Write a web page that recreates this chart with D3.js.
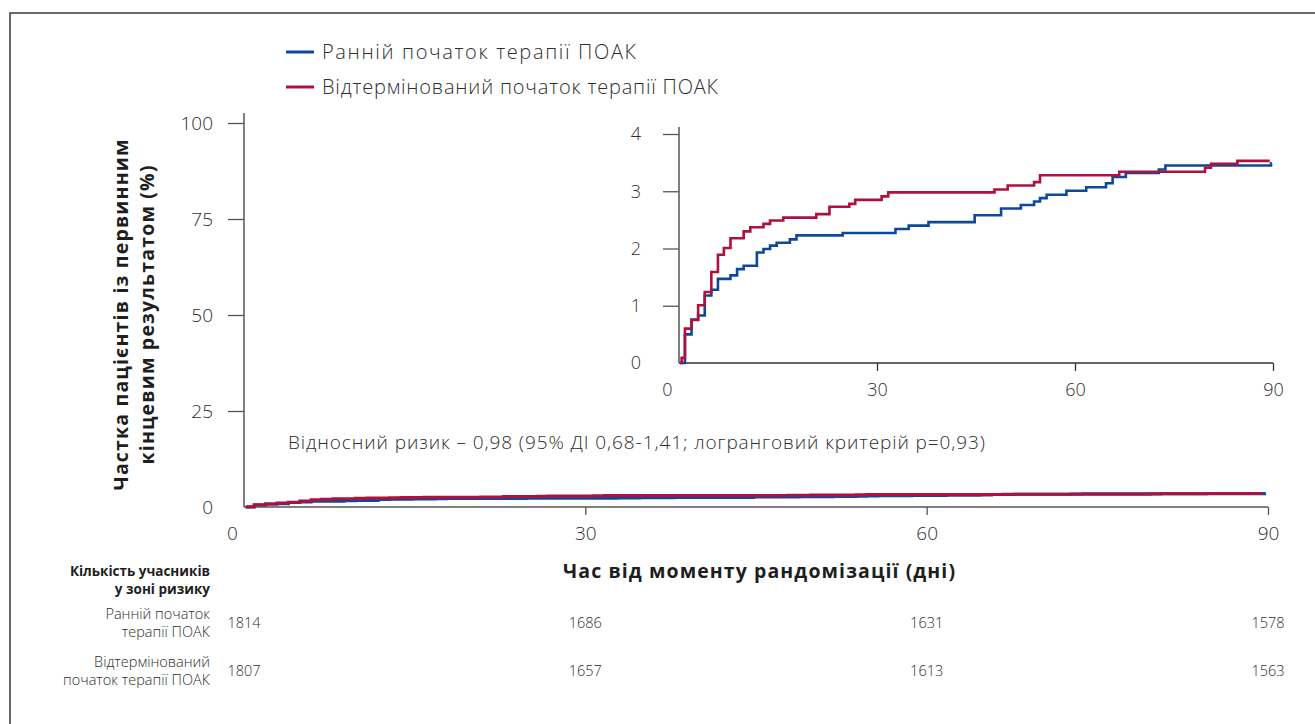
<!DOCTYPE html>
<html><head><meta charset="utf-8">
<script src="https://cdn.jsdelivr.net/npm/d3@7"></script>
<style>
html,body{margin:0;padding:0;background:#fff;}
svg{display:block;}
text{font-family:"Open Sans","Noto Sans",sans-serif;fill:#2e2e2e;}
.lt{font-weight:300;}
.bd{font-weight:700;fill:#1e1e1e;}
</style></head>
<body>
<script>
// ---------- data ----------
const seriesNames = ["Ранній початок терапії ПОАК", "Відтермінований початок терапії ПОАК"];
const earlyDays = [0.15, 0.9, 1.9, 2.9, 3.9, 4.9, 5.9, 7.8, 8.8, 9.8, 11.8, 12.8, 13.8, 14.8, 16.8, 17.8, 24.8, 32.8, 34.8, 37.8, 44.8, 48.8, 51.8, 53.8, 54.7, 55.7, 58.7, 61.7, 64.7, 65.7, 67.7, 72.7, 73.7, 89.7, 89.8];
const earlyVals = [0, 0.50, 0.76, 0.83, 1.18, 1.28, 1.47, 1.53, 1.64, 1.70, 1.93, 1.99, 2.05, 2.10, 2.16, 2.23, 2.27, 2.34, 2.40, 2.46, 2.58, 2.70, 2.76, 2.82, 2.88, 2.94, 3.01, 3.07, 3.14, 3.25, 3.32, 3.38, 3.45, 3.49, 3.49];
const delayedDays = [0.15, 0.4, 0.9, 1.9, 2.9, 3.9, 4.9, 5.9, 6.8, 7.8, 9.8, 10.8, 12.8, 13.8, 15.8, 20.8, 22.8, 25.8, 26.7, 30.7, 31.7, 47.8, 49.8, 53.8, 54.7, 66.7, 79.7, 80.6, 84.6, 89.5];
const delayedVals = [0, 0.09, 0.60, 0.75, 1.01, 1.24, 1.59, 1.89, 2.01, 2.18, 2.30, 2.37, 2.43, 2.49, 2.54, 2.60, 2.73, 2.78, 2.85, 2.91, 2.98, 3.03, 3.10, 3.16, 3.28, 3.34, 3.41, 3.48, 3.53, 3.53];
const xTicks = [0, 30, 60, 90];
const mainYTicks = [0, 25, 50, 75, 100];
const insetYTicks = [0, 1, 2, 3, 4];
const riskDays = [0, 30, 60, 90];
const riskEarly = [1814, 1686, 1631, 1578];
const riskDelayed = [1807, 1657, 1613, 1563];
const riskRowLabels = [["Ранній початок", "терапії ПОАК"], ["Відтермінований", "початок терапії ПОАК"]];
const riskHeader = ["Кількість учасників", "у зоні ризику"];
const yTitle = ["Частка пацієнтів із первинним", "кінцевим результатом (%)"];
const xTitle = "Час від моменту рандомізації (дні)";
const annotation = "Відносний ризик – 0,98 (95% ДІ 0,68-1,41; логранговий критерій p=0,93)";
const colors = ["#0c4a98", "#b0103d"];

// ---------- setup ----------
const W = 1315, H = 724;
const svg = d3.select("body").append("svg").attr("width", W).attr("height", H);

// frame
svg.append("rect").attr("x", 10).attr("y", 13).attr("width", W + 20).attr("height", H + 20)
  .attr("fill", "none").attr("stroke", "#3a3a3a").attr("stroke-width", 1.5);

const early = earlyDays.map((d, i) => [d, earlyVals[i]]);
const delayed = delayedDays.map((d, i) => [d, delayedVals[i]]);
const series = [early, delayed];

// ---------- main chart ----------
const x = d3.scaleLinear().domain([0, 90]).range([244, 1268]);
const y = d3.scaleLinear().domain([0, 100]).range([507, 123]);
const axisColor = "#555";

const gMain = svg.append("g");
gMain.append("line").attr("x1", x(0)).attr("x2", x(0)).attr("y1", y(100) - 10).attr("y2", y(0))
  .attr("stroke", axisColor).attr("stroke-width", 1.5);
const yAx = gMain.append("g").attr("transform", `translate(${x(0)},0)`)
  .call(d3.axisLeft(y).tickValues(mainYTicks).tickSize(16).tickPadding(15).tickFormat(d3.format("d")));
yAx.select(".domain").remove();
yAx.selectAll(".tick line").attr("stroke", axisColor).attr("stroke-width", 1.3)
  .attr("display", d => d === 0 ? "none" : null);
yAx.selectAll(".tick text").attr("class", "lt").style("font-size", "19px").attr("fill", "#2e2e2e");
gMain.append("line").attr("x1", x(0)).attr("x2", x(90)).attr("y1", y(0)).attr("y2", y(0))
  .attr("stroke", axisColor).attr("stroke-width", 1.5);
const xAx = gMain.append("g").attr("transform", `translate(0,${y(0)})`)
  .call(d3.axisBottom(x).tickValues(xTicks).tickSize(8).tickPadding(12).tickFormat(d3.format("d")));
xAx.select(".domain").remove();
xAx.selectAll(".tick line").attr("stroke", axisColor).attr("stroke-width", 1.3)
  .attr("display", d => d === 0 ? "none" : null);
xAx.selectAll(".tick text").attr("class", "lt").style("font-size", "19px").attr("fill", "#2e2e2e")
  .attr("dx", d => d === 0 ? -12 : 0);

const lineMain = d3.line().curve(d3.curveStepAfter).x(d => x(d[0])).y(d => y(d[1]));
series.forEach((s, i) => {
  gMain.append("path").datum(s).attr("d", lineMain).attr("fill", "none")
    .attr("stroke", colors[i]).attr("stroke-width", 3);
});

// titles
svg.append("text").attr("class", "bd").attr("text-anchor", "middle")
  .attr("transform", `translate(128,${(y(0) + y(100)) / 2}) rotate(-90)`)
  .style("font-size", "19.5px").attr("textLength", 351).attr("lengthAdjust", "spacing").text(yTitle[0]);
svg.append("text").attr("class", "bd").attr("text-anchor", "middle")
  .attr("transform", `translate(154,${(y(0) + y(100)) / 2}) rotate(-90)`)
  .style("font-size", "19.5px").attr("textLength", 299).attr("lengthAdjust", "spacing").text(yTitle[1]);
svg.append("text").attr("class", "bd").attr("text-anchor", "middle")
  .attr("x", 759).attr("y", 578).style("font-size", "19.5px")
  .attr("textLength", 392).attr("lengthAdjust", "spacing").text(xTitle);

// annotation
svg.append("text").attr("class", "lt").attr("x", 288).attr("y", 449)
  .style("font-size", "19px").attr("textLength", 697).attr("lengthAdjust", "spacing").text(annotation);

// legend
const legendLen = [314, 396];
seriesNames.forEach((n, i) => {
  const ly = 52 + i * 35;
  svg.append("line").attr("x1", 286).attr("x2", 314).attr("y1", ly).attr("y2", ly)
    .attr("stroke", colors[i]).attr("stroke-width", 3);
  svg.append("text").attr("class", "lt").attr("x", 322).attr("y", ly + 7)
    .style("font-size", "20px").attr("textLength", legendLen[i]).attr("lengthAdjust", "spacing").text(n);
});

// ---------- inset ----------
const xi = d3.scaleLinear().domain([0, 90]).range([679, 1273]);
const yi = d3.scaleLinear().domain([0, 4]).range([363, 134]);
const gIn = svg.append("g");
gIn.append("line").attr("x1", xi(0)).attr("x2", xi(0)).attr("y1", yi(4) - 7).attr("y2", yi(0))
  .attr("stroke", axisColor).attr("stroke-width", 1.5);
gIn.append("line").attr("x1", xi(0)).attr("x2", xi(90)).attr("y1", yi(0)).attr("y2", yi(0))
  .attr("stroke", "#333").attr("stroke-width", 1.5);
const yiAx = gIn.append("g").attr("transform", `translate(${xi(0)},0)`)
  .call(d3.axisLeft(yi).tickValues(insetYTicks).tickSize(16).tickPadding(22).tickFormat(d3.format("d")));
yiAx.select(".domain").remove();
yiAx.selectAll(".tick line").attr("stroke", axisColor).attr("stroke-width", 1.3)
  .attr("display", d => d === 0 ? "none" : null);
yiAx.selectAll(".tick text").attr("class", "lt").style("font-size", "18px").attr("fill", "#2e2e2e");
const xiAx = gIn.append("g").attr("transform", `translate(0,${yi(0)})`)
  .call(d3.axisBottom(xi).tickValues(xTicks).tickSize(8).tickPadding(12).tickFormat(d3.format("d")));
xiAx.select(".domain").remove();
xiAx.selectAll(".tick line").attr("stroke", "#333").attr("stroke-width", 1.3)
  .attr("display", d => d === 0 ? "none" : null);
xiAx.selectAll(".tick text").attr("class", "lt").style("font-size", "18px").attr("fill", "#2e2e2e")
  .attr("dx", d => d === 0 ? -12 : 0);

const lineIn = d3.line().curve(d3.curveStepAfter).x(d => xi(d[0])).y(d => yi(d[1]));
series.forEach((s, i) => {
  gIn.append("path").datum(s).attr("d", lineIn).attr("fill", "none")
    .attr("stroke", colors[i]).attr("stroke-width", 2.6);
});

// ---------- risk table ----------
riskHeader.forEach((t, i) => {
  svg.append("text").attr("class", "bd").attr("text-anchor", "end")
    .attr("x", 210).attr("y", 576 + i * 18).style("font-size", "13.5px").text(t);
});
[riskEarly, riskDelayed].forEach((row, r) => {
  const cy = 623 + r * 48;
  riskRowLabels[r].forEach((t, j) => {
    svg.append("text").attr("class", "lt").attr("text-anchor", "end")
      .attr("x", 210).attr("y", cy - 9 + j * 18 + 5).style("font-size", "14.5px").attr("fill", "#3a3a3a").text(t);
  });
  row.forEach((v, k) => {
    svg.append("text").attr("class", "lt").attr("text-anchor", "middle")
      .attr("x", x(riskDays[k])).attr("y", cy + 5).style("font-size", "14.5px").text(v);
  });
});
</script>
</body></html>
